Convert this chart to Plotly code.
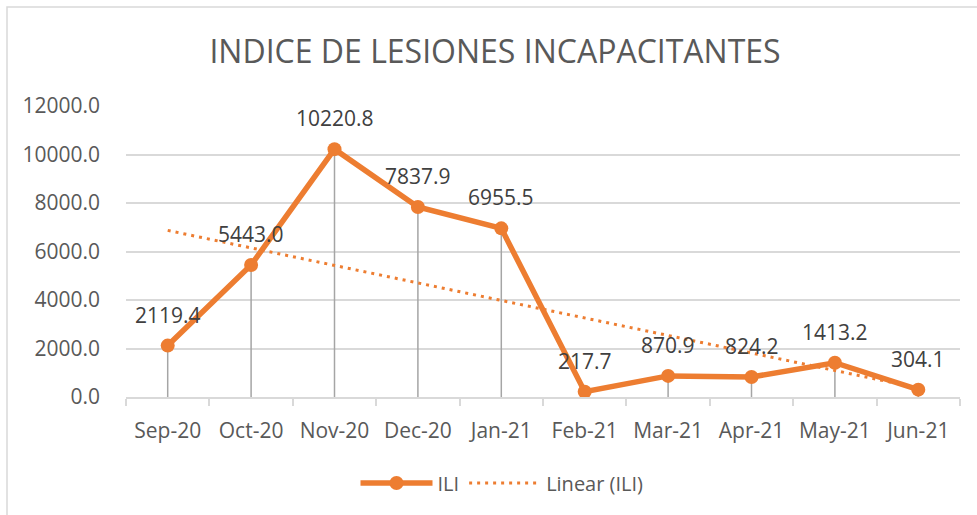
import numpy as np
import plotly.graph_objects as go

months = ["Sep-20", "Oct-20", "Nov-20", "Dec-20", "Jan-21", "Feb-21",
          "Mar-21", "Apr-21", "May-21", "Jun-21"]
ili = [2119.4, 5443.0, 10220.8, 7837.9, 6955.5, 217.7, 870.9, 824.2, 1413.2, 304.1]
y_ticks = [0, 2000, 4000, 6000, 8000, 10000, 12000]

ORANGE = "#ED7D31"
TXT = "#595959"
GRID = "#D9D9D9"
FONT = "Open Sans"

W, H = 977, 515
L, R, T, B = 126, 17, 106, 118

# Excel-style linear trendline (x = 1..n)
xs = np.arange(1, len(ili) + 1)
slope, intercept = np.polyfit(xs, ili, 1)
trend = list(slope * xs + intercept)

# drop lines
drop_x, drop_y = [], []
for m, v in zip(months, ili):
    drop_x += [m, m, None]
    drop_y += [0, v, None]

fig = go.Figure()
fig.add_trace(go.Scatter(x=drop_x, y=drop_y, mode="lines",
                         line=dict(color="#A5A5A5", width=1.5),
                         showlegend=False, hoverinfo="skip"))
fig.add_trace(go.Scatter(x=months, y=ili, mode="lines+markers", name="ILI",
                         line=dict(color=ORANGE, width=5.5),
                         marker=dict(color=ORANGE, size=14)))
fig.add_trace(go.Scatter(x=months, y=trend, mode="lines", name="Linear (ILI)",
                         line=dict(color=ORANGE, width=3, dash="3px,5px")))

for m, v in zip(months, ili):
    fig.add_annotation(x=m, y=v, text=f"{v:.1f}", showarrow=False,
                       yanchor="middle", yshift=31,
                       font=dict(family=FONT, size=21, color="#404040"))

ph = H - T - B
pw = W - L - R
fig.add_shape(type="rect", xref="paper", yref="paper",
              x0=(7 - L) / pw, x1=(W + 5 - L) / pw,
              y0=-(H + 5 - (H - B)) / ph, y1=((H - B) - 7) / ph,
              line=dict(color=GRID, width=1.5), fillcolor="rgba(0,0,0,0)")

fig.update_layout(
    width=W, height=H,
    margin=dict(l=L, r=R, t=T, b=B),
    paper_bgcolor="white", plot_bgcolor="white",
    title=dict(text="INDICE DE LESIONES INCAPACITANTES",
               x=495 / W, xanchor="center", y=1 - 52 / H, yanchor="middle",
               font=dict(family=FONT, size=32, color=TXT)),
    font=dict(family=FONT, color=TXT),
    legend=dict(orientation="h", xref="container", yref="container",
                x=502 / W, xanchor="center", y=1 - 483 / H, yanchor="middle",
                font=dict(family=FONT, size=20, color=TXT),
                itemwidth=72, traceorder="normal"),
    xaxis=dict(type="category", categoryorder="array", categoryarray=months,
               range=[-0.5, len(months) - 0.5],
               showgrid=False, showline=True, linecolor=GRID, linewidth=1.5,
               ticks="outside", tickson="boundaries", ticklen=7, tickcolor=GRID,
               tickwidth=1.5, ticklabelstandoff=14,
               tickfont=dict(family=FONT, size=21, color=TXT)),
    yaxis=dict(range=[0, 12000], tickvals=y_ticks, tickformat=".1f",
               showgrid=True, gridcolor=GRID, gridwidth=1.5,
               zeroline=False, showline=False, ticks="",
               ticklabelstandoff=25,
               tickfont=dict(family=FONT, size=21, color=TXT)),
    hovermode=False,
)

fig.write_html("out.html", config={"displayModeBar": False},
               post_script="document.body.style.margin='0';document.body.style.padding='0';")
